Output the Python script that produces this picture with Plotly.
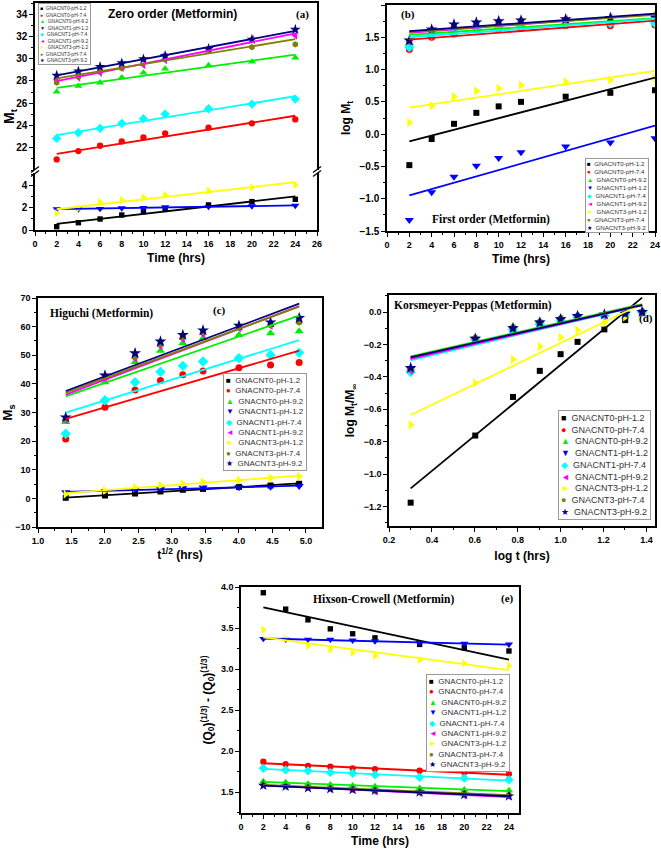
import numpy as np
import plotly.graph_objects as go

# ---------------- data ----------------
time_h = [2, 4, 6, 8, 10, 12, 16, 20, 24]
sqrt_t = [1.414, 2.0, 2.449, 2.828, 3.162, 3.464, 4.0, 4.472, 4.899]
log_t = [0.301, 0.602, 0.778, 0.903, 1.0, 1.079, 1.204, 1.301, 1.380]

series_names = ["GNACNT0-pH-1.2", "GNACNT0-pH-7.4", "GNACNT0-pH-9.2",
                "GNACNT1-pH-1.2", "GNACNT1-pH-7.4", "GNACNT1-pH-9.2",
                "GNACNT3-pH-1.2", "GNACNT3-pH-7.4", "GNACNT3-pH-9.2"]

# (a) Zero order, Mt vs time
zero_order_mt = [
    [0.30, 0.66, 0.99, 1.35, 1.65, 1.86, 2.26, 2.56, 2.77],
    [20.95, 21.70, 22.18, 22.57, 22.93, 23.29, 23.80, 24.19, 24.54],
    [27.03, 27.54, 27.84, 28.31, 28.73, 29.09, 29.39, 29.72, 30.08],
    [1.89, 1.89, 1.92, 1.98, 2.00, 2.07, 2.10, 2.16, 2.20],
    [22.84, 23.35, 23.74, 24.19, 24.60, 25.02, 25.50, 25.92, 26.37],
    [28.08, 28.31, 28.73, 29.18, 29.42, 29.87, 30.77, 31.76, 32.08],
    [1.50, 1.95, 2.50, 2.70, 2.92, 3.16, 3.55, 3.85, 4.06],
    [27.84, 28.37, 28.82, 29.12, 29.93, 30.29, 30.77, 31.04, 31.28],
    [28.49, 28.88, 29.27, 29.60, 29.96, 30.26, 30.89, 31.73, 32.62],
]
zero_low_series = [0, 3, 6]

# (b) First order, log Mt vs time
first_order_logmt = [
    [-0.48, -0.075, 0.16, 0.33, 0.43, 0.50, 0.58, 0.64, 0.68],
    [1.31, 1.50, 1.55, 1.62, 1.63, 1.64, 1.68, 1.68, 1.69],
    [1.41, 1.56, 1.62, 1.67, 1.68, 1.70, 1.72, 1.73, 1.74],
    [-1.33, -0.90, -0.66, -0.49, -0.37, -0.28, -0.19, -0.13, -0.065],
    [1.35, 1.54, 1.59, 1.64, 1.66, 1.67, 1.70, 1.72, 1.72],
    [1.44, 1.60, 1.66, 1.70, 1.72, 1.74, 1.77, 1.80, 1.80],
    [0.18, 0.44, 0.58, 0.67, 0.71, 0.76, 0.81, 0.84, 0.87],
    [1.44, 1.60, 1.68, 1.72, 1.74, 1.76, 1.77, 1.78, 1.78],
    [1.45, 1.62, 1.70, 1.73, 1.75, 1.76, 1.78, 1.80, 1.81],
]

# (c) Higuchi, Ms vs t^1/2
higuchi_ms = [
    [0.2, 1.0, 1.7, 2.4, 3.0, 3.3, 4.0, 4.5, 5.1],
    [20.7, 31.8, 37.9, 41.2, 43.2, 44.5, 45.6, 46.6, 47.5],
    [26.7, 40.6, 47.6, 51.6, 54.2, 55.9, 57.1, 57.7, 58.4],
    [2.1, 2.6, 2.9, 3.2, 3.5, 3.8, 3.9, 4.1, 4.3],
    [22.6, 34.3, 40.6, 44.2, 46.3, 47.8, 49.0, 50.1, 50.9],
    [27.5, 42.0, 49.0, 53.3, 55.8, 57.5, 59.6, 60.4, 62.6],
    [1.5, 2.7, 3.8, 4.5, 5.1, 5.7, 6.4, 7.1, 7.7],
    [27.8, 42.3, 49.6, 53.8, 56.5, 58.2, 59.8, 60.6, 61.5],
    [28.3, 42.9, 50.7, 54.8, 57.1, 58.7, 60.3, 61.5, 63.0],
]

# (d) Korsmeyer-Peppas, log Mt/Minf vs log t
kp_logfrac = [
    [-1.176, -0.762, -0.524, -0.363, -0.260, -0.184, -0.107, -0.050, 0.0],
    [-0.365, -0.170, -0.105, -0.070, -0.045, -0.030, -0.020, -0.010, 0.0],
    [-0.345, -0.160, -0.090, -0.055, -0.035, -0.020, -0.010, -0.005, 0.0],
    [-0.350, -0.165, -0.100, -0.065, -0.045, -0.030, -0.020, -0.010, 0.0],
    [-0.370, -0.170, -0.110, -0.075, -0.050, -0.030, -0.025, -0.015, 0.0],
    [-0.360, -0.165, -0.105, -0.070, -0.045, -0.030, -0.020, -0.010, 0.0],
    [-0.696, -0.438, -0.292, -0.212, -0.155, -0.111, -0.067, -0.030, 0.0],
    [-0.350, -0.160, -0.095, -0.060, -0.040, -0.025, -0.015, -0.010, 0.0],
    [-0.345, -0.165, -0.100, -0.065, -0.045, -0.025, -0.015, -0.010, 0.0],
]

# (e) Hixson-Crowell
hc_values = [
    [3.93, 3.73, 3.60, 3.49, 3.43, 3.38, 3.30, 3.26, 3.22],
    [1.87, 1.84, 1.82, 1.81, 1.79, 1.78, 1.76, 1.74, 1.72],
    [1.63, 1.62, 1.60, 1.59, 1.58, 1.57, 1.55, 1.53, 1.52],
    [3.37, 3.36, 3.36, 3.36, 3.35, 3.34, 3.32, 3.31, 3.30],
    [1.79, 1.77, 1.76, 1.74, 1.73, 1.71, 1.68, 1.67, 1.65],
    [1.59, 1.57, 1.56, 1.54, 1.53, 1.51, 1.49, 1.46, 1.45],
    [3.48, 3.37, 3.28, 3.24, 3.20, 3.16, 3.11, 3.07, 3.04],
    [1.60, 1.58, 1.56, 1.55, 1.53, 1.52, 1.50, 1.49, 1.47],
    [1.58, 1.57, 1.55, 1.54, 1.53, 1.52, 1.50, 1.47, 1.45],
]

# ---------------- styles ----------------
colors = ["#000000", "#ff0000", "#00ee00", "#0000ff", "#00ffff",
          "#ff00ff", "#ffff00", "#808000", "#000080"]
symbols = ["square", "circle", "triangle-up", "triangle-down", "diamond",
           "triangle-left", "triangle-right", "hexagon", "star"]
sizes = [6, 7, 8, 8, 8, 8, 8, 7, 9]
glyphs = ["\u25A0", "\u25CF", "\u25B2", "\u25BC", "\u25C6", "\u25C4", "\u25BA", "\u25CF", "\u2605"]

W, H = 661, 851
SANS = "Liberation Sans, Arial, sans-serif"
SERIF = "Liberation Serif, Times New Roman, serif"


def xd(a, b):
    return [a / W, b / W]


def yd(top, bottom):
    return [1 - bottom / H, 1 - top / H]


fig = go.Figure()


def add_panel(xs, ys_list, xa, ya, idx_list=None, scale=1.0):
    idx_list = range(len(ys_list)) if idx_list is None else idx_list
    for i in idx_list:
        fig.add_trace(go.Scatter(
            x=xs, y=ys_list[i], mode="markers", name=series_names[i],
            xaxis=xa, yaxis=ya, showlegend=False,
            marker=dict(symbol=symbols[i], color=colors[i], size=sizes[i] * scale,
                        line=dict(width=0))))
    for i in idx_list:
        k, b = np.polyfit(xs, ys_list[i], 1)
        xl = np.array([min(xs), max(xs)])
        fig.add_trace(go.Scatter(
            x=xl, y=k * xl + b, mode="lines", xaxis=xa, yaxis=ya,
            showlegend=False, hoverinfo="skip",
            line=dict(color=colors[i], width=1.8)))


zero_high_series = [i for i in range(9) if i not in zero_low_series]
add_panel(time_h, zero_order_mt, "x", "y", zero_low_series, 0.9)
add_panel(time_h, zero_order_mt, "x2", "y2", zero_high_series, 0.9)
add_panel(time_h, first_order_logmt, "x3", "y3")
add_panel(sqrt_t, higuchi_ms, "x4", "y4")
add_panel(log_t, kp_logfrac, "x5", "y5")
add_panel(time_h, hc_values, "x6", "y6", None, 0.9)


def axis(domain, rng, dtick, anchor, minor_dtick=None, fmt=None, title=None,
         tsize=12, standoff=None, tickfont_size=9, mirror=True, tick0=0, **kw):
    d = dict(domain=domain, range=rng, dtick=dtick, tick0=tick0, anchor=anchor,
             showline=True, linecolor="black", linewidth=1.5, mirror=mirror,
             ticks="outside", ticklen=4, tickwidth=1.2, tickcolor="black",
             showgrid=False, zeroline=False, automargin=False,
             tickfont=dict(family=SANS, size=tickfont_size, color="black", weight="bold"))
    if minor_dtick:
        d["minor"] = dict(ticks="outside", ticklen=2, tickwidth=1, tickcolor="black",
                          dtick=minor_dtick, tick0=tick0, showgrid=False)
    if fmt:
        d["tickformat"] = fmt
    if title:
        t = dict(text=title, font=dict(family=SANS, size=tsize, color="black", weight="bold"))
        if standoff is not None:
            t["standoff"] = standoff
        d["title"] = t
    d.update(kw)
    return d


layout = dict(
    width=W, height=H, margin=dict(l=0, r=0, t=0, b=0),
    paper_bgcolor="white", plot_bgcolor="white", showlegend=False,
    font=dict(family=SANS, color="black"),
)

# (a) broken axis
layout["xaxis"] = axis(xd(35, 317), [0, 26], 2, "y", minor_dtick=1,
                       title="Time (hrs)", tsize=12, standoff=6, mirror=False)
layout["yaxis"] = axis(yd(173, 230), [0, 5.14], 2, "x", minor_dtick=1,
                       tickfont_size=10, tickvals=[0, 2, 4], tickmode="array")
layout["xaxis2"] = axis(xd(35, 317), [0, 26], 2, "y2", side="top",
                        showticklabels=False, ticks="", mirror=False)
layout["yaxis2"] = axis(yd(3, 170), [20, 35], 2, "x2", minor_dtick=1,
                        tickfont_size=10, tickvals=[22, 24, 26, 28, 30, 32, 34],
                        tickmode="array")
# (b)
layout["xaxis3"] = axis(xd(387, 655), [0, 24], 2, "y3", minor_dtick=1,
                        title="Time (hrs)", standoff=6)
layout["yaxis3"] = axis(yd(5, 231), [-1.5, 2.0], 0.5, "x3", minor_dtick=0.25,
                        fmt=".1f", title="log M<sub>t</sub>", standoff=6, tickfont_size=10)
# (c)
layout["xaxis4"] = axis(xd(38, 322), [1.0, 5.24], 0.5, "y4", minor_dtick=0.25,
                        fmt=".1f", title="t<sup>1/2</sup> (hrs)", standoff=6, tick0=1.0)
layout["yaxis4"] = axis(yd(298, 527), [-10, 70], 10, "x4", minor_dtick=5,
                        title="M<sub>s</sub>", tsize=13, standoff=4)
# (d)
layout["xaxis5"] = axis(xd(389, 655), [0.2, 1.44], 0.2, "y5", minor_dtick=0.1,
                        fmt=".1f", title="log t (hrs)", standoff=8)
layout["yaxis5"] = axis(yd(295, 526), [-1.32, 0.105], 0.2, "x5", minor_dtick=0.1,
                        fmt=".1f", title="log M<sub>t</sub>/M<sub>\u221e</sub>", standoff=6)
# (e)
layout["xaxis6"] = axis(xd(241, 519), [0, 24.9], 2, "y6", minor_dtick=1,
                        title="Time (hrs)", standoff=6)
layout["yaxis6"] = axis(yd(587, 813), [1.245, 4.0], 0.5, "x6", minor_dtick=0.25,
                        fmt=".1f",
                        title="(Q<sub>0</sub>)<sup>(1/3)</sup> - (Q<sub>0</sub>)<sup>(1/3)</sup>",
                        tsize=12, standoff=6)

fig.update_layout(**layout)

# ---------------- annotations: titles, labels, legends ----------------
annos = []


def txt(x, y, text, family, size, **kw):
    annos.append(dict(x=x / W, y=1 - y / H, xref="paper", yref="paper", text=text,
                      xanchor="center", yanchor="middle",
                      showarrow=False, font=dict(family=family, size=size, color="black",
                                                 weight="bold"), **kw))


txt(172, 14, "Zero order (Metformin)", SANS, 12)
txt(302, 15, "(a)", SERIF, 11)
txt(408, 15, "(b)", SERIF, 11)
txt(491, 219, "First order (Metformin)", SERIF, 11.5)
txt(101, 313, "Higuchi (Metformin)", SERIF, 11.5)
txt(220, 310, "(c)", SERIF, 11)
txt(473, 305, "Korsmeyer-Peppas (Metformin)", SERIF, 11.5)
txt(646, 318, "(d)", SERIF, 11)
txt(383, 599, "Hixson-Crowell (Metformin)", SERIF, 11.5)
txt(507, 598, "(e)", SERIF, 11)
# (a) y-axis title spanning both halves of the broken axis
txt(10, 116, "M<sub>t</sub>", SANS, 14, textangle=-90)


def legend_box(left, top, size, pad=2):
    lines = ["<span style='color:%s'>%s</span>\u00a0\u00a0%s" % (c, g, n)
             for c, g, n in zip(colors, glyphs, series_names)]
    annos.append(dict(x=left / W, y=1 - top / H, xref="paper", yref="paper",
                      xanchor="left", yanchor="top", align="left", showarrow=False,
                      text="<br>".join(lines), bgcolor="white",
                      bordercolor="#9a9a9a", borderwidth=1, borderpad=pad,
                      font=dict(family=SANS, size=size, color="#333333")))


legend_box(38, 3, 5, pad=1)
legend_box(585, 158, 6.2, pad=1)
legend_box(223, 373, 8)
legend_box(558, 410, 9)
legend_box(426, 674, 8)

fig.update_layout(annotations=annos)

# break marks on the broken axis of panel (a)
shapes = []
for xb in (35, 317):
    for yb in (169.5, 173.5):
        shapes.append(dict(type="line", xref="paper", yref="paper",
                           x0=(xb - 4) / W, x1=(xb + 4) / W,
                           y0=1 - (yb + 3) / H, y1=1 - (yb - 3) / H,
                           line=dict(color="black", width=1.3)))
fig.update_layout(shapes=shapes)

fig.write_html("out.html",
               config={"displayModeBar": False},
               post_script="document.body.style.margin='0';"
                           "document.body.style.overflow='hidden';")
